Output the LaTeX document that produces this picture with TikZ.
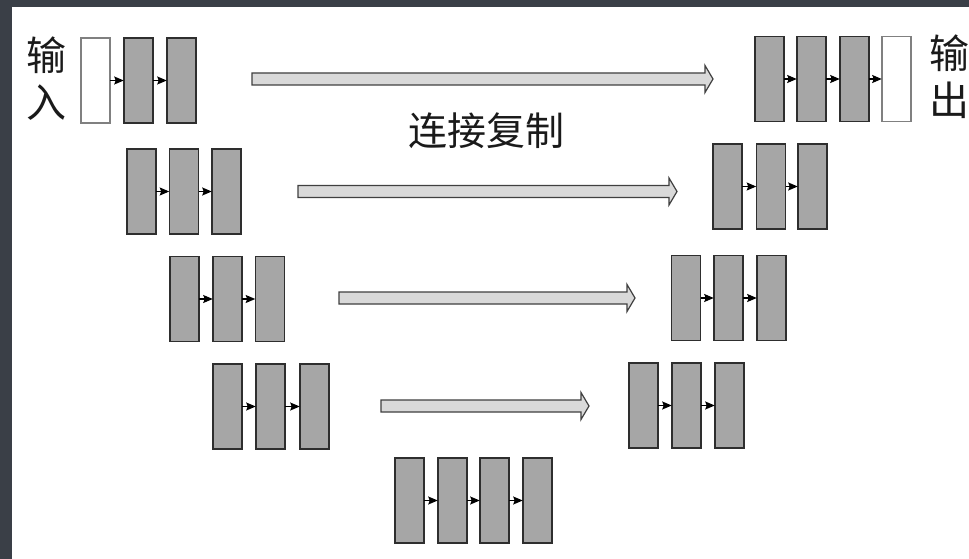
\documentclass[tikz,border=0pt]{standalone}
\usepackage{fontspec}
\newfontfamily\cjk{Noto Sans CJK SC}
\usetikzlibrary{arrows.meta}
\definecolor{bgdark}{HTML}{3A3F47}
\definecolor{boxgray}{HTML}{A6A6A6}
\definecolor{boxline}{HTML}{2E2E2E}
\definecolor{wline}{HTML}{808080}
\definecolor{arrfill}{HTML}{D9D9D9}
\definecolor{arrline}{HTML}{404040}
\definecolor{txt}{HTML}{1A1A1A}
\newcommand\bigarr[4]{% name, x1, x2, y
  \coordinate (#1s) at (#2,#4);
  \coordinate (#1e) at (#3,#4);
  \draw[bigarrow] ({#2},{#4-6}) -- ({#3-8},{#4-6}) -- ({#3-8},{#4-13.5}) -- (#1e)
    -- ({#3-8},{#4+13.5}) -- ({#3-8},{#4+6}) -- ({#2},{#4+6}) -- cycle;}
\begin{document}
\begin{tikzpicture}[x=1pt,y=-1pt,
  gbox/.style={draw=boxline, fill=boxgray, line width=1.3pt, minimum width=29pt, minimum height=85pt, inner sep=0pt, outer sep=0pt},
  wbox/.style={gbox, draw=wline, fill=white},
  sarrow/.style={draw=black, line width=1.1pt, -{Stealth[length=9.5pt,width=8pt,inset=1.5pt]}, shorten >=0.3pt},
  bigarrow/.style={draw=arrline, fill=arrfill, line width=1.2pt, line join=miter},
  lbl/.style={text=txt, inner sep=0pt, align=center, font={\cjk\fontsize{40}{47}\selectfont}}]
\fill[bgdark] (0,0) rectangle (969,559);
\fill[white] (12,7) rectangle (969,559);
\useasboundingbox (0,0) rectangle (969,559);

% labels
\node[lbl] (in) at (47,79) {输\\入};
\node[lbl] (out) at (949,77) {输\\出};
\node[lbl, font={\cjk\fontsize{39}{39}\selectfont}] (copy) at (486,131) {连接复制};

% row 1
\node[wbox] (a1) at (95.5,80.5) {};
\node[gbox] (a2) at (138.5,80.5) {};
\node[gbox] (a3) at (181.5,80.5) {};
\node[gbox] (b1) at (769.5,79) {};
\node[gbox] (b2) at (811.5,79) {};
\node[gbox] (b3) at (854.5,79) {};
\node[wbox] (b4) at (896.5,79) {};
% row 2
\node[gbox] (c1) at (141.5,191.5) {};
\node[gbox] (c2) at (184,191.5) {};
\node[gbox] (c3) at (226.5,191.5) {};
\node[gbox] (d1) at (727.5,186.5) {};
\node[gbox] (d2) at (771,186.5) {};
\node[gbox] (d3) at (812.5,186.5) {};
% row 3
\node[gbox] (e1) at (184.5,299) {};
\node[gbox] (e2) at (227.5,299) {};
\node[gbox] (e3) at (270,299) {};
\node[gbox] (f1) at (686,298) {};
\node[gbox] (f2) at (728.5,298) {};
\node[gbox] (f3) at (771.5,298) {};
% row 4
\node[gbox] (g1) at (227.5,406.5) {};
\node[gbox] (g2) at (270.5,406.5) {};
\node[gbox] (g3) at (314.5,406.5) {};
\node[gbox] (h1) at (643.5,405.5) {};
\node[gbox] (h2) at (686.5,405.5) {};
\node[gbox] (h3) at (729.5,405.5) {};
% row 5
\node[gbox] (k1) at (409.5,500.5) {};
\node[gbox] (k2) at (452.5,500.5) {};
\node[gbox] (k3) at (494.5,500.5) {};
\node[gbox] (k4) at (537.5,500.5) {};

% small arrows
\foreach \p/\q in {a1/a2,a2/a3,b1/b2,b2/b3,b3/b4,c1/c2,c2/c3,d1/d2,d2/d3,e1/e2,e2/e3,f1/f2,f2/f3,g1/g2,g2/g3,h1/h2,h2/h3,k1/k2,k2/k3,k3/k4}
  \draw[sarrow] (\p.east) -- (\q.west);

% copy arrows
\bigarr{r1}{252}{713}{79}
\bigarr{r2}{298}{677}{191.5}
\bigarr{r3}{339}{635}{298}
\bigarr{r4}{381}{589}{406}
\end{tikzpicture}
\end{document}
